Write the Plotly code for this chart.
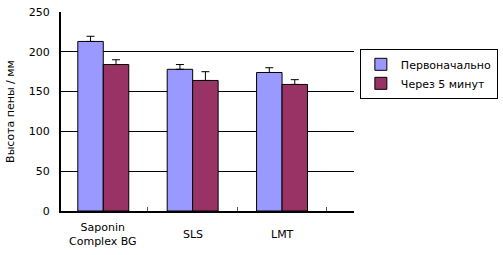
import plotly.graph_objects as go

categories = ["Saponin<br>Complex BG", "SLS", "LMT"]
series_names = ["Первоначально", "Через 5 минут"]
initial = [213, 178, 174]
initial_err = [6.5, 6, 6]
after5 = [184, 164, 159]
after5_err = [6, 11, 6]
y_ticks = [0, 50, 100, 150, 200, 250]
colors = ["#9999FF", "#993366"]

x_pos = list(range(len(categories)))
FONT = "DejaVu Sans"

fig = go.Figure()
for name, vals, errs, col in [
    (series_names[0], initial, initial_err, colors[0]),
    (series_names[1], after5, after5_err, colors[1]),
]:
    fig.add_trace(go.Bar(
        x=x_pos, y=vals, name=name,
        marker=dict(color=col, line=dict(color="black", width=1)),
        error_y=dict(type="data", symmetric=False, array=errs,
                     arrayminus=[0] * len(errs), color="black",
                     thickness=1, width=4),
    ))

fig.update_layout(
    width=503, height=255,
    margin=dict(l=61, r=149, t=12, b=44, autoexpand=False),
    paper_bgcolor="white", plot_bgcolor="white",
    barmode="group", bargap=0.43, bargroupgap=0,
    font=dict(family=FONT, size=11, color="black"),
    legend=dict(
        x=1.02, y=0.815, xanchor="left", yanchor="top",
        bordercolor="black", borderwidth=1, bgcolor="white",
        font=dict(family=FONT, size=11, color="black"),
        tracegroupgap=0, itemclick=False,
    ),
    xaxis=dict(
        range=[-0.473, 2.805], showgrid=False, zeroline=False,
        showline=True, linecolor="black", linewidth=2,
        tickvals=[i + 0.5 for i in x_pos], ticktext=["" for _ in x_pos],
        ticks="inside", ticklen=4, tickcolor="#555555", tickwidth=1,
    ),
    yaxis=dict(
        range=[0, 250], tickvals=y_ticks,
        showgrid=True, gridcolor="black", gridwidth=1, zeroline=False,
        showline=True, linecolor="black", linewidth=2,
        ticks="", ticklabelstandoff=7,
        title=dict(text="Высота пены / мм", standoff=12,
                   font=dict(family=FONT, size=11)),
    ),
)

for i, cat in enumerate(categories):
    fig.add_annotation(x=x_pos[i], xref="x", y=-0.12, yref="paper",
                       text=cat, showarrow=False, yanchor="middle",
                       font=dict(family=FONT, size=11, color="black"))

fig.write_html("out.html")
